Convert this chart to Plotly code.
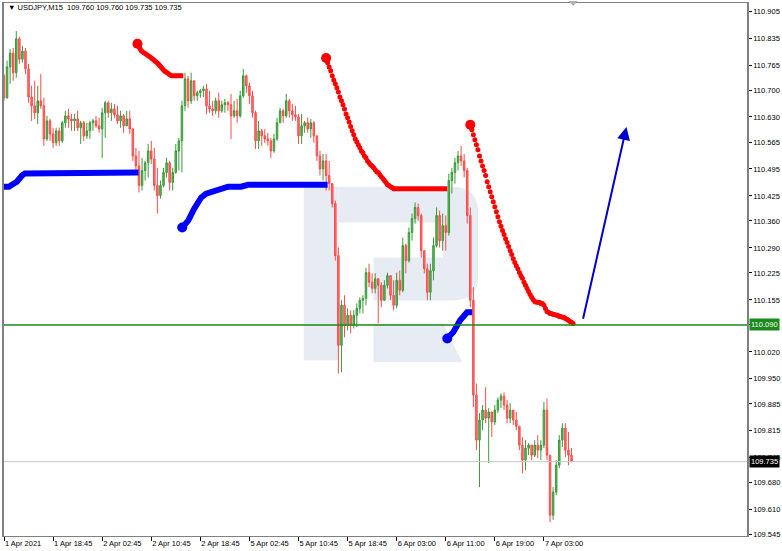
import plotly.graph_objects as go

# ---------------- data ----------------
symbol_header = "▼ USDJPY,M15  109.760 109.760 109.735 109.735"

opens = [
110.737,110.680,110.760,110.796,110.745,110.833,110.780,110.801,110.755,110.682,
110.659,110.641,110.672,110.659,110.573,110.620,110.586,110.563,110.594,110.568,
110.615,110.633,110.625,110.620,110.625,110.602,110.615,110.581,110.594,110.615,
110.620,110.607,110.599,110.641,110.667,110.641,110.651,110.636,110.620,110.633,
110.607,110.625,110.599,110.529,110.503,110.452,110.491,110.511,110.542,110.521,
110.452,110.426,110.452,110.486,110.511,110.460,110.486,110.542,110.568,110.659,
110.729,110.672,110.724,110.685,110.693,110.698,110.703,110.659,110.651,110.646,
110.672,110.646,110.662,110.667,110.662,110.633,110.646,110.633,110.685,110.737,
110.711,110.685,110.641,110.568,110.594,110.581,110.573,110.568,110.542,110.573,
110.615,110.646,110.633,110.672,110.646,110.636,110.630,110.581,110.607,110.615,
110.599,110.615,110.581,110.529,110.495,110.516,110.478,110.457,110.405,110.270,
110.037,110.141,110.089,110.115,110.089,110.115,110.133,110.154,110.159,110.226,
110.201,110.185,110.210,110.193,110.154,110.193,110.218,110.167,110.141,110.206,
110.180,110.296,110.257,110.330,110.366,110.395,110.374,110.283,110.236,110.175,
110.231,110.296,110.374,110.309,110.348,110.330,110.465,110.486,110.511,110.529,
110.516,110.491,110.374,110.154,109.908,109.791,109.843,109.869,109.848,109.864,
109.838,109.869,109.895,109.905,109.882,109.848,109.869,109.843,109.827,109.778,
109.739,109.770,109.778,109.752,109.778,109.765,109.778,109.869,109.752,109.596,
109.656,109.726,109.791,109.822,109.765,109.752]

highs = [
110.742,110.776,110.806,110.809,110.853,110.838,110.814,110.809,110.768,110.711,
110.724,110.711,110.742,110.680,110.633,110.625,110.602,110.602,110.602,110.620,
110.646,110.651,110.638,110.638,110.646,110.620,110.620,110.615,110.620,110.625,
110.633,110.628,110.654,110.672,110.672,110.667,110.664,110.659,110.646,110.638,
110.646,110.646,110.602,110.550,110.542,110.524,110.516,110.560,110.568,110.550,
110.498,110.465,110.498,110.524,110.516,110.498,110.560,110.576,110.672,110.745,
110.737,110.745,110.724,110.698,110.703,110.711,110.716,110.698,110.672,110.680,
110.693,110.672,110.677,110.672,110.690,110.672,110.677,110.698,110.755,110.740,
110.719,110.698,110.646,110.620,110.599,110.599,110.589,110.576,110.586,110.628,
110.654,110.651,110.690,110.677,110.664,110.659,110.638,110.638,110.620,110.628,
110.625,110.620,110.581,110.542,110.534,110.534,110.516,110.457,110.413,110.291,
110.154,110.167,110.133,110.128,110.128,110.146,110.162,110.167,110.239,110.249,
110.224,110.224,110.210,110.201,110.206,110.226,110.218,110.206,110.226,110.231,
110.317,110.301,110.343,110.379,110.408,110.405,110.379,110.283,110.249,110.249,
110.317,110.395,110.387,110.379,110.374,110.483,110.498,110.524,110.542,110.555,
110.534,110.498,110.395,110.188,109.938,109.861,109.882,109.928,109.874,109.864,
109.882,109.902,109.912,109.915,109.895,109.887,109.869,109.864,109.827,109.799,
109.791,109.783,109.778,109.791,109.804,109.791,109.890,109.899,109.752,109.669,
109.739,109.804,109.835,109.835,109.812,109.770]

lows = [
110.672,110.677,110.716,110.724,110.732,110.768,110.771,110.742,110.667,110.620,
110.625,110.612,110.651,110.555,110.568,110.568,110.550,110.555,110.555,110.563,
110.602,110.602,110.594,110.594,110.594,110.560,110.568,110.573,110.573,110.594,
110.602,110.589,110.524,110.576,110.628,110.620,110.628,110.612,110.602,110.589,
110.607,110.586,110.516,110.491,110.434,110.439,110.465,110.473,110.508,110.439,
110.379,110.418,110.447,110.473,110.439,110.439,110.483,110.491,110.486,110.646,
110.654,110.664,110.672,110.672,110.680,110.682,110.638,110.641,110.633,110.638,
110.628,110.641,110.641,110.646,110.573,110.628,110.615,110.628,110.680,110.693,
110.664,110.628,110.547,110.547,110.555,110.563,110.555,110.524,110.537,110.568,
110.615,110.615,110.628,110.628,110.620,110.620,110.560,110.560,110.589,110.589,
110.576,110.563,110.516,110.478,110.465,110.439,110.439,110.395,110.257,109.964,
109.967,110.058,110.076,110.068,110.081,110.084,110.120,110.120,110.141,110.188,
110.172,110.172,110.094,110.136,110.154,110.185,110.154,110.128,110.133,110.167,
110.175,110.224,110.252,110.309,110.353,110.361,110.265,110.224,110.154,110.154,
110.206,110.291,110.291,110.283,110.283,110.322,110.431,110.457,110.491,110.503,
110.473,110.353,110.136,109.877,109.765,109.669,109.817,109.835,109.731,109.799,
109.830,109.861,109.874,109.869,109.835,109.835,109.830,109.817,109.765,109.705,
109.713,109.752,109.739,109.747,109.744,109.739,109.770,109.739,109.578,109.584,
109.648,109.718,109.773,109.747,109.726,109.734]

closes = [
110.680,110.760,110.796,110.745,110.833,110.780,110.801,110.755,110.682,110.659,
110.641,110.672,110.659,110.573,110.620,110.586,110.563,110.594,110.568,110.615,
110.633,110.625,110.620,110.625,110.602,110.615,110.581,110.594,110.615,110.620,
110.607,110.599,110.641,110.667,110.641,110.651,110.636,110.620,110.633,110.607,
110.625,110.599,110.529,110.503,110.452,110.491,110.511,110.542,110.521,110.452,
110.426,110.452,110.486,110.511,110.460,110.486,110.542,110.568,110.659,110.729,
110.672,110.724,110.685,110.693,110.698,110.703,110.659,110.651,110.646,110.672,
110.646,110.662,110.667,110.662,110.633,110.646,110.633,110.685,110.737,110.711,
110.685,110.641,110.568,110.594,110.581,110.573,110.568,110.542,110.573,110.615,
110.646,110.633,110.672,110.646,110.636,110.630,110.581,110.607,110.615,110.599,
110.615,110.581,110.529,110.495,110.516,110.478,110.457,110.405,110.270,110.037,
110.141,110.089,110.115,110.089,110.115,110.133,110.154,110.159,110.226,110.201,
110.185,110.210,110.193,110.154,110.193,110.218,110.167,110.141,110.206,110.180,
110.296,110.257,110.330,110.366,110.395,110.374,110.283,110.236,110.175,110.231,
110.296,110.374,110.309,110.348,110.330,110.465,110.486,110.511,110.529,110.516,
110.491,110.374,110.154,109.908,109.791,109.843,109.869,109.848,109.864,109.838,
109.869,109.895,109.905,109.882,109.848,109.869,109.843,109.827,109.778,109.739,
109.770,109.778,109.752,109.778,109.765,109.778,109.869,109.752,109.596,109.656,
109.726,109.791,109.822,109.765,109.752,109.735]

n = min(len(opens), len(highs), len(lows), len(closes))
bars = [2 * k for k in range(n)]   # bar index on the M15 time grid

x_tick_bars = [0, 32, 64, 96, 128, 160, 192, 224, 256, 288, 320, 352]
x_tick_labels = ["1 Apr 2021", "1 Apr 18:45", "2 Apr 02:45", "2 Apr 10:45", "2 Apr 18:45",
                 "5 Apr 02:45", "5 Apr 10:45", "5 Apr 18:45", "6 Apr 03:00", "6 Apr 11:00",
                 "6 Apr 19:00", "7 Apr 03:00"]
y_tick_values = [110.905, 110.835, 110.765, 110.700, 110.630, 110.565, 110.495, 110.425,
                 110.360, 110.290, 110.225, 110.155, 110.090, 110.020, 109.950, 109.885,
                 109.815, 109.745, 109.680, 109.610, 109.545]

# indicator lines (bar index, price)
blue1_bars = [0, 3.2, 5.2, 8.4, 11.7, 13.6, 87.7]
blue1_price = [110.449, 110.449, 110.454, 110.462, 110.478, 110.483, 110.486]
blue2_bars = [116.2, 120.1, 124.0, 128.6, 131.8, 139.6, 146.1, 154.5, 159.1, 211.0]
blue2_price = [110.343, 110.361, 110.392, 110.421, 110.431, 110.439, 110.449, 110.449, 110.454, 110.454]
blue3_bars = [289.0, 292.9, 297.4, 301.9, 305.2]
blue3_price = [110.055, 110.071, 110.102, 110.123, 110.123]

red1_bars = [87.0, 89.6, 96.1, 100.6, 104.5, 109.1, 116.9]
red1_price = [110.820, 110.801, 110.783, 110.768, 110.750, 110.737, 110.737]

red2_first_bar = 210
red2_dots = [110.783, 110.771, 110.760, 110.750, 110.737, 110.726, 110.716, 110.706, 110.695, 110.682,
             110.672, 110.662, 110.651, 110.638, 110.628, 110.617, 110.605, 110.594, 110.584, 110.573,
             110.566, 110.558, 110.550, 110.542, 110.537, 110.529, 110.524, 110.516, 110.511, 110.506,
             110.503, 110.498, 110.493, 110.488, 110.486, 110.480, 110.475, 110.470, 110.465, 110.460,
             110.454, 110.452, 110.449, 110.447, 110.444]
red2_flat_bars = [254, 289]
red2_flat_price = [110.444, 110.444]

red3_first_bar = 304
red3_dots = [110.610, 110.597, 110.584, 110.571, 110.558, 110.545, 110.529, 110.516, 110.503, 110.491,
             110.478, 110.462, 110.449, 110.436, 110.423, 110.410, 110.397, 110.384, 110.371, 110.358,
             110.346, 110.335, 110.325, 110.314, 110.304, 110.294, 110.283, 110.273, 110.262, 110.252,
             110.244, 110.236, 110.226, 110.218, 110.211, 110.201, 110.193, 110.185, 110.177, 110.169,
             110.162, 110.156, 110.151, 110.149, 110.149, 110.149, 110.146, 110.146, 110.141, 110.133,
             110.125, 110.123, 110.120, 110.120, 110.117, 110.117, 110.115, 110.115, 110.112, 110.112,
             110.110, 110.110, 110.107, 110.105, 110.102, 110.099, 110.097, 110.094]

level_price = 110.090
last_price = 109.735

arrow_start_bar, arrow_start_price = 377.3, 110.102
arrow_end_bar, arrow_end_price = 405.8, 110.604

# ---------------- figure ----------------
W, H = 782, 551
ML, MR, MT, MB = 2, 34, 2, 15
PW, PH = W - ML - MR, H - MT - MB
X_RANGE = [0, 484.4]
Y_RANGE = [109.542, 110.926]

def px(x):
    return (x - ML) / PW

def py(y):
    return 1 - (y - MT) / PH

RED = "#ff0000"
BLUE = "#0000ff"
FONT = "Liberation Sans"

fig = go.Figure()

fig.add_trace(go.Candlestick(
    x=bars[:n], open=opens[:n], high=highs[:n], low=lows[:n], close=closes[:n],
    increasing=dict(line=dict(color="#3a9a3a", width=1), fillcolor="#5cb85c"),
    decreasing=dict(line=dict(color="#ff4a4a", width=1), fillcolor="#ff7070"),
    whiskerwidth=0, hoverinfo="skip", showlegend=False))

def line(xs, ys, color, width):
    fig.add_trace(go.Scatter(x=xs, y=ys, mode="lines", line=dict(color=color, width=width),
                             hoverinfo="skip", showlegend=False))

def dot(x, y, color, size):
    fig.add_trace(go.Scatter(x=[x], y=[y], mode="markers", marker=dict(color=color, size=size),
                             hoverinfo="skip", showlegend=False))

line(blue1_bars, blue1_price, BLUE, 6)
line(blue2_bars, blue2_price, BLUE, 6)
dot(blue2_bars[0], blue2_price[0], BLUE, 10)
line(blue3_bars, blue3_price, BLUE, 6)
dot(blue3_bars[0], blue3_price[0], BLUE, 10)

line(red1_bars, red1_price, RED, 5)
dot(red1_bars[0], red1_price[0], RED, 10)

red2_bars = [red2_first_bar + i for i in range(len(red2_dots))]
fig.add_trace(go.Scatter(x=red2_bars, y=red2_dots, mode="markers",
                         marker=dict(color=RED, size=5), hoverinfo="skip", showlegend=False))
line(red2_flat_bars, red2_flat_price, RED, 5)
dot(red2_bars[0], red2_dots[0], RED, 10)

red3_bars = [red3_first_bar + i for i in range(len(red3_dots))]
fig.add_trace(go.Scatter(x=red3_bars, y=red3_dots, mode="markers",
                         marker=dict(color=RED, size=5), hoverinfo="skip", showlegend=False))
dot(red3_bars[0], red3_dots[0], RED, 10)

shapes = []
# watermark logo (decoration, in page pixels)
wm = "#e7ebf3"
def P(x, y):
    return f"{px(x):.5f},{py(y):.5f}"
shapes.append(dict(type="path", xref="paper", yref="paper", layer="below", line=dict(width=0), fillcolor=wm,
                   path=f"M {P(303,186)} L {P(338,186)} L {P(338,360)} L {P(303,360)} Z"))
shapes.append(dict(type="path", xref="paper", yref="paper", layer="below", line=dict(width=0), fillcolor=wm,
                   path=(f"M {P(338,186)} L {P(452,186)} Q {P(478,186)} {P(478,212)} L {P(478,276)} "
                         f"Q {P(478,300)} {P(452,300)} L {P(373,300)} L {P(373,257)} L {P(443,257)} "
                         f"L {P(443,222)} L {P(338,222)} Z")))
shapes.append(dict(type="path", xref="paper", yref="paper", layer="below", line=dict(width=0), fillcolor=wm,
                   path=f"M {P(373,323)} L {P(443,323)} L {P(462,362)} L {P(373,362)} Z"))

# horizontal levels
shapes.append(dict(type="line", xref="paper", yref="y", x0=0, x1=1, y0=last_price, y1=last_price,
                   line=dict(color="#c8c8c8", width=1)))
shapes.append(dict(type="line", xref="paper", yref="y", x0=0, x1=1, y0=level_price, y1=level_price,
                   line=dict(color="#1a8a1a", width=1.5)))
# chart-shift marker
shapes.append(dict(type="path", xref="paper", yref="paper", line=dict(width=0), fillcolor="#b0b0b0",
                   path=f"M {P(569,0)} L {P(578,0)} L {P(573.5,5)} Z"))

annotations = [
    dict(x=px(4), y=py(7), xref="paper", yref="paper", xanchor="left", yanchor="middle",
         text=symbol_header, showarrow=False, font=dict(family=FONT, size=7.5, color="#000000")),
    dict(x=1, xref="paper", xanchor="left", xshift=2, y=level_price, yref="y", yanchor="middle",
         text=f"{level_price:.3f}", showarrow=False, bgcolor="#1a8a1a", borderpad=1,
         font=dict(family=FONT, size=7.5, color="#ffffff")),
    dict(x=1, xref="paper", xanchor="left", xshift=2, y=last_price, yref="y", yanchor="middle",
         text=f"{last_price:.3f}", showarrow=False, bgcolor="#000000", borderpad=1,
         font=dict(family=FONT, size=7.5, color="#ffffff")),
    dict(x=arrow_end_bar, y=arrow_end_price, xref="x", yref="y",
         ax=arrow_start_bar, ay=arrow_start_price, axref="x", ayref="y",
         text="", showarrow=True, arrowhead=2, arrowsize=1.3, arrowwidth=2, arrowcolor="#0000cc"),
]

# the level tick label is shown by its own green price box
y_tick_text = ["" if abs(v - level_price) < 1e-9 else f"{v:.3f}" for v in y_tick_values]

fig.update_layout(
    width=W, height=H, margin=dict(l=ML, r=MR, t=MT, b=MB),
    paper_bgcolor="white", plot_bgcolor="white",
    shapes=shapes, annotations=annotations, showlegend=False,
    font=dict(family=FONT, size=7.5, color="#000000"),
    xaxis=dict(range=X_RANGE, tickvals=x_tick_bars, ticktext=x_tick_labels, ticks="outside",
               ticklen=4, tickcolor="#000000", showline=True, linecolor="#808080", linewidth=1,
               mirror=True, showgrid=False, zeroline=False, rangeslider=dict(visible=False),
               ticklabelposition="outside right", tickfont=dict(family=FONT, size=7.5)),
    yaxis=dict(range=Y_RANGE, side="right", tickvals=y_tick_values,
               ticktext=y_tick_text, ticks="outside", ticklen=3,
               tickcolor="#000000", showline=True, linecolor="#808080", linewidth=1.5, mirror=True,
               showgrid=False, zeroline=False, tickfont=dict(family=FONT, size=7.5)),
)

fig.write_html("out.html", config={"displayModeBar": False},
               post_script="document.body.style.margin='0';")
